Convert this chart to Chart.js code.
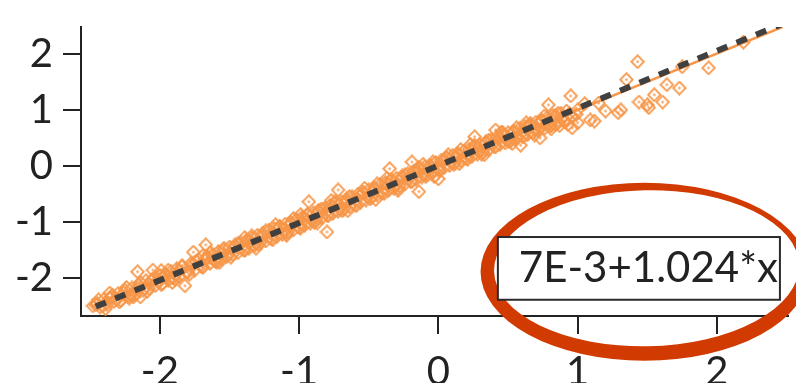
<!DOCTYPE html>
<html>
<head>
<meta charset="utf-8">
<script src="https://cdn.jsdelivr.net/npm/chart.js@4/dist/chart.umd.min.js"></script>
<style>
html,body{margin:0;padding:0;background:#fff;}
#wrap{width:796px;height:383px;}
</style>
</head>
<body>
<div id="wrap"><canvas id="c" width="796" height="383"></canvas></div>
<script>
// ---- data ----
const xTicks = [-2, -1, 0, 1, 2];
const yTicks = [-2, -1, 0, 1, 2];
const fitLabel = "7E-3+1.024*x";
const fitX = [-2.46, 2.46];
const fitY = [-2.512, 2.526];
const smoothX = [-2.47, 2.47];
const smoothY = [-2.49, 2.48];

const segA = [[-2.48,-2.50],[-2.45,-2.46],[-2.43,-2.52],[-2.40,-2.38],[-2.38,-2.47],[-2.35,-2.34],[-2.33,-2.42],[-2.30,-2.28],[-2.28,-2.40],[-2.25,-2.22],[-2.23,-2.33],[-2.20,-2.18],[-2.18,-2.30],[-2.16,-1.89],[-2.15,-2.12],[-2.14,-2.34],[-2.12,-2.22],[-2.10,-2.05],[-2.08,-2.19],[-2.05,-1.86],[-2.05,-2.02],[-2.03,-2.13],[-2.00,-1.96],[-1.98,-2.10],[-1.96,-1.93],[-1.94,-2.04],[-1.92,-1.88],[-1.90,-2.00],[-1.88,-1.84],[-1.86,-1.97],[-1.84,-1.80],[-1.82,-2.14],[-1.80,-1.90],[-1.78,-1.75],[-1.76,-1.54],[-1.75,-1.86],[-1.72,-1.68],[-1.70,-1.80],[-1.67,-1.41],[-1.66,-1.62],[-1.64,-1.74],[-1.62,-1.58],[-1.60,-1.70],[-1.58,-1.53],[-1.56,-1.66],[-1.54,-1.50],[-1.52,-1.62],[-1.50,-1.45]];
const segB = [[-1.48,-1.58],[-1.46,-1.41],[-1.44,-1.55],[-1.42,-1.37],[-1.40,-1.50],[-1.38,-1.33],[-1.36,-1.47],[-1.34,-1.29],[-1.32,-1.42],[-1.30,-1.24],[-1.28,-1.37],[-1.26,-1.20],[-1.24,-1.34],[-1.22,-1.16],[-1.20,-1.30],[-1.18,-1.12],[-1.16,-1.26],[-1.14,-1.08],[-1.12,-1.22],[-1.10,-1.04],[-1.08,-1.18],[-1.06,-1.01],[-1.04,-1.14],[-1.02,-0.96],[-1.00,-1.10],[-0.98,-0.92],[-0.96,-1.06],[-0.93,-0.64],[-0.94,-0.88],[-0.92,-1.02],[-0.90,-0.84],[-0.88,-0.97],[-0.86,-0.79],[-0.84,-0.93],[-0.82,-0.76],[-0.80,-1.18],[-0.80,-0.88],[-0.78,-0.71],[-0.76,-0.85],[-0.74,-0.67],[-0.72,-0.43],[-0.72,-0.81],[-0.70,-0.64],[-0.68,-0.77],[-0.66,-0.59],[-0.64,-0.73],[-0.62,-0.55],[-0.60,-0.69],[-0.58,-0.51],[-0.56,-0.65],[-0.54,-0.48],[-0.52,-0.61],[-0.50,-0.43]];
const segC = [[-0.48,-0.56],[-0.46,-0.39],[-0.44,-0.52],[-0.42,-0.34],[-0.40,-0.48],[-0.38,-0.30],[-0.35,-0.05],[-0.36,-0.44],[-0.34,-0.26],[-0.32,-0.40],[-0.30,-0.22],[-0.28,-0.36],[-0.26,-0.18],[-0.24,-0.32],[-0.22,-0.14],[-0.20,-0.28],[-0.19,0.07],[-0.18,-0.10],[-0.16,-0.24],[-0.14,-0.46],[-0.14,-0.06],[-0.12,-0.20],[-0.10,-0.02],[-0.08,-0.16],[-0.06,0.01],[-0.04,-0.12],[-0.02,0.06],[0.00,-0.23],[0.00,-0.07],[0.02,0.10],[0.04,-0.03],[0.06,0.14],[0.08,0.01],[0.10,0.18],[0.12,0.05],[0.14,0.22],[0.16,0.09],[0.18,0.26],[0.20,0.13],[0.22,0.30],[0.24,0.17],[0.26,0.52],[0.26,0.34],[0.28,0.21],[0.30,0.38],[0.32,0.25],[0.34,0.43],[0.36,0.29],[0.38,0.47],[0.40,0.34],[0.41,0.64],[0.42,0.51],[0.44,0.38],[0.46,0.55],[0.48,0.41],[0.50,0.59]];
const segD = [[0.52,0.46],[0.54,0.62],[0.56,0.49],[0.59,0.37],[0.58,0.66],[0.60,0.53],[0.62,0.70],[0.64,0.56],[0.66,0.73],[0.68,0.60],[0.70,0.78],[0.73,0.50],[0.72,0.64],[0.74,0.82],[0.76,0.67],[0.79,1.09],[0.78,0.86],[0.80,0.71],[0.82,0.90],[0.84,0.74],[0.86,0.77],[0.88,0.94],[0.90,0.80],[0.92,0.98],[0.95,1.25],[0.96,0.68],[0.96,0.87],[1.00,0.77],[1.00,1.00]];
const segE = [[1.05,1.11],[1.09,0.82],[1.12,0.80],[1.15,1.12],[1.20,0.98],[1.29,0.95],[1.31,1.00],[1.35,1.54],[1.43,1.86],[1.44,1.14],[1.50,1.09],[1.51,1.04],[1.55,1.27],[1.61,1.14],[1.64,1.45],[1.73,1.39],[1.75,1.77],[1.94,1.75],[2.19,2.21]];
const segF = [[-2.36,-2.27],[-2.22,-2.36],[-1.99,-1.87],[-1.91,-2.08],[-1.69,-1.60],[-1.57,-1.72],[-1.39,-1.28],[-1.31,-1.47],[-1.17,-1.05],[-1.09,-1.24],[-0.99,-0.87],[-0.87,-1.02],[-0.77,-0.62],[-0.65,-0.80],[-0.53,-0.40],[-0.45,-0.60],[-0.37,-0.22],[-0.29,-0.44],[-0.11,0.03],[-0.03,-0.19],[0.07,0.20],[0.15,0.04],[0.23,0.38],[0.33,0.20],[0.45,0.60],[0.53,0.40],[0.63,0.77],[0.69,0.55],[0.81,0.66],[0.87,0.72],[0.93,0.74]];
const segG = [[-2.46,-2.48],[-2.41,-2.50],[-2.36,-2.36],[-2.31,-2.39],[-2.26,-2.27],[-2.21,-2.31],[-2.16,-2.19],[-2.11,-2.19],[-2.06,-2.05],[-2.01,-2.07],[-1.96,-1.96],[-1.91,-2.00],[-1.86,-1.87],[-1.81,-1.89],[-1.76,-1.75],[-1.71,-1.77],[-1.66,-1.65],[-1.61,-1.69],[-1.56,-1.57],[-1.51,-1.58],[-1.46,-1.44],[-1.41,-1.46],[-1.36,-1.35],[-1.31,-1.38],[-1.26,-1.25],[-1.21,-1.27],[-1.16,-1.13],[-1.11,-1.16],[-1.06,-1.04],[-1.01,-1.08],[-0.96,-0.96],[-0.91,-0.97],[-0.86,-0.82],[-0.81,-0.84],[-0.76,-0.73],[-0.71,-0.77],[-0.66,-0.64],[-0.61,-0.66],[-0.56,-0.52],[-0.51,-0.55],[-0.46,-0.42],[-0.41,-0.46],[-0.36,-0.34],[-0.31,-0.35],[-0.26,-0.21],[-0.21,-0.23],[-0.16,-0.12],[-0.11,-0.16],[-0.06,-0.02],[-0.01,-0.04],[0.04,0.10],[0.09,0.07],[0.14,0.19],[0.19,0.15],[0.24,0.27],[0.29,0.26],[0.34,0.41],[0.39,0.39],[0.44,0.50],[0.49,0.46],[0.54,0.59],[0.59,0.57],[0.64,0.70],[0.69,0.66],[0.74,0.79],[0.79,0.76],[0.84,0.90],[0.89,0.85],[0.94,0.93],[0.99,0.92]];
const segH = [[-2.44,-2.39],[-2.39,-2.55],[-2.34,-2.31],[-2.29,-2.43],[-2.24,-2.17],[-2.19,-2.34],[-2.14,-2.08],[-2.09,-2.24],[-2.04,-2.00],[-1.99,-2.12],[-1.94,-1.86],[-1.89,-2.03],[-1.84,-1.78],[-1.79,-1.94],[-1.74,-1.70],[-1.69,-1.81],[-1.64,-1.55],[-1.59,-1.72],[-1.54,-1.47],[-1.49,-1.63],[-1.44,-1.39],[-1.39,-1.51],[-1.34,-1.25],[-1.29,-1.41],[-1.24,-1.16],[-1.19,-1.32],[-1.14,-1.08],[-1.09,-1.20],[-1.04,-0.94],[-0.99,-1.11],[-0.94,-0.86],[-0.89,-1.01],[-0.84,-0.77],[-0.79,-0.89],[-0.74,-0.63],[-0.69,-0.80],[-0.64,-0.55],[-0.59,-0.71],[-0.54,-0.47],[-0.49,-0.59],[-0.44,-0.32],[-0.39,-0.49],[-0.34,-0.24],[-0.29,-0.40],[-0.24,-0.16],[-0.19,-0.28],[-0.14,-0.02],[-0.09,-0.19],[-0.04,0.07],[0.01,-0.09],[0.06,0.15],[0.11,0.03],[0.16,0.29],[0.21,0.12],[0.26,0.37],[0.31,0.21],[0.36,0.46],[0.41,0.34],[0.46,0.60],[0.51,0.43],[0.56,0.68],[0.61,0.52],[0.66,0.76],[0.71,0.64],[0.76,0.89],[0.81,0.72],[0.86,0.94],[0.91,0.80]];

// ---- styling ----
const ORANGE = 'rgb(247,150,72)';
const DARK = '#404040';
const AXIS = '#222222';
const FONT = 'Lato, "Open Sans", "DejaVu Sans", sans-serif';

const marker = document.createElement('canvas');
marker.width = 15; marker.height = 15;
(function(){
  const m = marker.getContext('2d');
  m.strokeStyle = ORANGE; m.lineWidth = 1.8;
  m.beginPath();
  m.moveTo(7.5, 1.2); m.lineTo(13.8, 7.5); m.lineTo(7.5, 13.8); m.lineTo(1.2, 7.5); m.closePath();
  m.stroke();
  m.fillStyle = ORANGE;
  m.beginPath(); m.arc(7.5, 7.5, 1.2, 0, Math.PI*2); m.fill();
})();

const allPts = [].concat(segA, segB, segC, segD, segE, segF, segG, segH).map(p => ({x: p[0], y: p[1]}));
const toXY = (xs, ys) => xs.map((v, i) => ({x: v, y: ys[i]}));

const annot = {
  id: 'annot',
  afterDraw(chart) {
    const ctx = chart.ctx;
    const xs = chart.scales.x, ys = chart.scales.y;
    const cx = xs.getPixelForValue(1.48), cy = ys.getPixelForValue(-1.89);
    ctx.save();
    ctx.fillStyle = '#D13A00';
    ctx.beginPath();
    ctx.ellipse(cx, cy, 164, 89, 0, 0, Math.PI*2);
    ctx.ellipse(cx + 2, cy - 3.5, 152.5, 78, -0.02, 0, Math.PI*2);
    ctx.fill('evenodd');
    ctx.restore();
    const l = xs.getPixelForValue(0.427), r = xs.getPixelForValue(2.452);
    const t = ys.getPixelForValue(-1.27), b = ys.getPixelForValue(-2.39);
    ctx.save();
    ctx.fillStyle = '#fff';
    ctx.fillRect(l, t, r - l, b - t);
    ctx.strokeStyle = '#2a2a2a'; ctx.lineWidth = 2;
    ctx.strokeRect(l, t, r - l, b - t);
    ctx.fillStyle = '#222';
    ctx.font = '42px ' + FONT;
    ctx.textAlign = 'left'; ctx.textBaseline = 'alphabetic';
    ctx.fillText(fitLabel, l + 21, b - 18);
    ctx.restore();
  }
};

new Chart(document.getElementById('c'), {
  type: 'scatter',
  data: {
    datasets: [
      { label: 'fit', type: 'line', data: toXY(fitX, fitY), borderColor: DARK, borderWidth: 6,
        borderDash: [11, 10], borderCapStyle: 'butt', pointRadius: 0, fill: false, order: 1 },
      { label: 'smooth', type: 'line', data: toXY(smoothX, smoothY), borderColor: ORANGE, borderWidth: 2.5,
        pointRadius: 0, fill: false, order: 2 },
      { label: 'data', data: allPts, pointStyle: marker, pointRadius: 7, order: 3,
        backgroundColor: ORANGE, borderColor: ORANGE }
    ]
  },
  options: {
    responsive: false,
    animation: false,
    events: [],
    layout: { padding: { top: 27, right: 1, left: 0, bottom: 0 } },
    plugins: { legend: { display: false }, tooltip: { enabled: false } },
    scales: {
      x: {
        type: 'linear', min: -2.566, max: 2.51,
        afterBuildTicks: s => { s.ticks = xTicks.map(v => ({value: v})); },
        afterFit: s => { s.height = 67; s.paddingLeft = 0; s.paddingRight = 0; },
        border: { display: true, color: AXIS, width: 2 },
        grid: { display: true, drawOnChartArea: false, drawTicks: true, tickLength: 18, color: AXIS, lineWidth: 2 },
        ticks: { color: AXIS, font: { family: FONT, size: 40 }, padding: 14, maxRotation: 0, callback: v => String(v) }
      },
      y: {
        type: 'linear', min: -2.68, max: 2.48,
        afterBuildTicks: s => { s.ticks = yTicks.map(v => ({value: v})); },
        afterFit: s => { s.width = 81; s.paddingTop = 0; s.paddingBottom = 0; },
        border: { display: true, color: AXIS, width: 2 },
        grid: { display: true, drawOnChartArea: false, drawTicks: true, tickLength: 18, color: AXIS, lineWidth: 2 },
        ticks: { color: AXIS, font: { family: FONT, size: 40 }, padding: 10, callback: v => String(v) }
      }
    }
  },
  plugins: [annot]
});
</script>
</body>
</html>
